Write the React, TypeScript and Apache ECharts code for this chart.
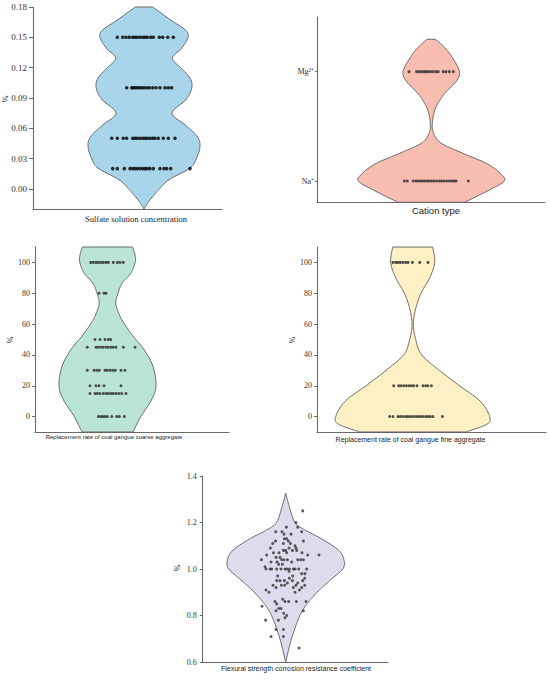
import { useEffect, useRef } from "react";
import * as echarts from "echarts";

// ---------------- Panel 1: Sulfate solution concentration ----------------
const sulfateLevels = [0.15, 0.1, 0.05, 0.02];
const sulfateOffsets = [
  [-26.7, -21.3, -18, -14.7, -11.3, -9, -6.7, -4, -1.3, 1, 3.3, 6.7, 9.3, 15.3, 18.7, 23.7, 29.3],
  [-17.3, -12.3, -10.7, -9, -6.7, -4.7, -2.3, 0, 2.7, 5.3, 8.7, 12, 16, 21, 24.3, 27.7],
  [-32.3, -26.7, -20.7, -17.3, -11.3, -9, -6.7, -4, -1.3, 1, 3.3, 6, 8.7, 11, 14.3, 19.3, 24.3, 31],
  [-31.3, -26.7, -19.7, -14, -11.3, -9, -6.7, -4, -1.3, 1, 3.3, 6, 9.3, 16, 20, 22.7, 26.7, 46],
];
// [value, density half-width]
const sulfateDensity = [
  [-0.02, 0], [-0.011, 6], [0.0, 15.5], [0.009, 25], [0.0205, 46], [0.0304, 52.5],
  [0.0419, 56], [0.0518, 53.3], [0.0634, 41], [0.075, 28], [0.088, 41.7], [0.0998, 47.8],
  [0.1097, 46], [0.1195, 37], [0.1295, 28.3], [0.139, 37.5], [0.15, 44], [0.157, 41.7],
  [0.167, 27], [0.18, 8.7],
];
const sulfateTicks = [0, 0.03, 0.06, 0.09, 0.12, 0.15, 0.18];

// ---------------- Panel 2: Cation type ----------------
const cationTypes = ["Na\u207A", "Mg\u00B2\u207A"];
const cationOffsets = [
  [-27, -24, -18, -15.3, -13, -10.7, -8.7, -6.3, -4, -2, 0.3, 2.7, 5.3, 8, 10.3, 12.7, 15.3, 18, 20.3, 22.7, 24.7, 37],
  [-22.3, -14.7, -12, -9.7, -7.3, -5.3, -3, -0.7, 2, 4.7, 7, 12, 14.7, 18, 22],
];
const cationDensity = [
  [-0.195, 33.3], [-0.082, 58], [0, 73], [0.07, 69], [0.162, 55], [0.253, 31.7],
  [0.345, 10], [0.436, 2.3], [0.527, 1], [0.649, 3.5], [0.741, 8.7], [0.817, 15],
  [0.909, 24.7], [1.0, 28.3], [1.137, 20.5], [1.229, 12.5], [1.296, 4.2],
];

// ---------------- Panel 3: coarse aggregate ----------------
const coarseLevels = [100, 80, 50, 45, 30, 20, 15, 0];
const coarseOffsets = [
  [-16.8, -14.2, -11.5, -9.2, -6.8, -4.2, -1.5, 0.8, 5.8, 9.8, 12.5, 15.8],
  [-8.5, -3.5, -1.5],
  [-12.5, -7.5, -2.5, 0.8, 3.2],
  [-20.2, -11.5, -9.2, -6.5, -4.2, -1.5, 0.8, 3.5, 5.8, 8.5, 15.8, 27.5],
  [-20.2, -13.5, -10.8, -8.2, -2.5, -0.2, 2.5, 5.2, 7.8, 13.5, 17.5],
  [-17.5, -11.5, -8.5, -3.5, 13.5],
  [-17.5, -12.5, -10.2, -7.5, -4.2, -1.5, 0.8, 3.5, 5.8, 8.5, 11.2, 14.2, 18.5],
  [-9.2, -6.8, -4.8, -2.5, -0.2, 4.2, 9.2, 11.8, 16.8],
];
const coarseDensity = [
  [-10, 25.5], [0, 33.3], [10.8, 44], [20.1, 48.5], [32.5, 45.5], [43.3, 36.7],
  [52, 25.8], [60.6, 16.3], [67, 11.3], [73.6, 8.3], [80, 10.5], [86.6, 14.7],
  [93, 23.3], [100, 27.7], [105, 27.5], [110, 25],
];
const percentTicks = [0, 20, 40, 60, 80, 100];

// ---------------- Panel 4: fine aggregate ----------------
const fineLevels = [100, 20, 0];
const fineOffsets = [
  [-19.7, -17, -14.7, -12.3, -9.7, -7, -4.7, -0.3, 7, 15.3],
  [-19, -14, -11.7, -9, -6.3, -3.7, -1.3, 1, 4.3, 10.3, 13, 15.3, 18.7],
  [-23, -19.7, -14.7, -12.3, -9.7, -7, -4.7, -2.3, 0.3, 3, 5.3, 7.7, 10.3, 13, 15.3, 17.7, 20.3, 29.7],
];
const fineDensity = [
  [-10, 53], [-5, 74], [0, 77], [10, 67.5], [20, 46.7], [30, 26.7], [40, 9],
  [50, 3], [60, 0.7], [70, 3], [80, 8.3], [90, 17], [100, 22], [110, 20],
];

// ---------------- Panel 5: flexural strength coefficient ----------------
// [offset, value]
const flexuralPoints = [
  [17, 1.25], [10.3, 1.2], [0.7, 1.18], [12, 1.18], [16, 1.16], [-10, 1.16], [-3.7, 1.16],
  [5.3, 1.15], [-1.7, 1.15], [-1.3, 1.13], [1, 1.13], [-2.3, 1.11], [2.7, 1.12], [4.7, 1.11],
  [-13, 1.11], [-10.3, 1.12], [9.3, 1.1], [17.7, 1.12], [-15.3, 1.09], [0, 1.08], [-2.3, 1.08],
  [3.3, 1.09], [10.3, 1.09], [11, 1.08], [6.7, 1.08], [1, 1.07], [-6.7, 1.07], [16.3, 1.07],
  [22, 1.06], [33.3, 1.06], [-19, 1.06], [-12.3, 1.07], [-9.7, 1.05], [-5.7, 1.05], [-4, 1.04],
  [-1.7, 1.04], [-8.7, 1.03], [1.7, 1.04], [12, 1.04], [15, 1.04], [17.7, 1.04], [-24.3, 1.04],
  [-14.7, 1.03], [-7, 1.02], [-3.3, 1.02], [6, 1.03], [-20.7, 1.01], [-19.7, 1.0], [-15.7, 1.0],
  [-14, 1.0], [-9, 1.0], [-4.7, 1.0], [-0.7, 1.0], [1, 1.0], [3.7, 1.0], [7.7, 1.0], [9.3, 1.0],
  [13, 1.0], [21, 1.0], [3.3, 0.99], [16, 0.98], [19.3, 0.98], [-8, 0.97], [7, 0.97], [3.7, 0.96],
  [19, 0.96], [17, 0.95], [-9, 0.95], [-5.7, 0.95], [-1.3, 0.95], [6.7, 0.95], [12, 0.94],
  [-12.7, 0.93], [1.7, 0.94], [10.3, 0.93], [-19.7, 0.91], [-9.7, 0.92], [-4.3, 0.93], [-1, 0.93],
  [7.7, 0.92], [16, 0.92], [19, 0.93], [-16.7, 0.9], [9.3, 0.9], [13.7, 0.91], [-10.7, 0.86],
  [-9, 0.85], [-3, 0.87], [-0.7, 0.86], [3, 0.86], [10.7, 0.86], [20.3, 0.86], [-7, 0.83],
  [-4.7, 0.83], [-9.7, 0.82], [17.7, 0.82], [-23.7, 0.84], [-2, 0.81], [1, 0.8], [-7.3, 0.78],
  [-0.7, 0.79], [-20, 0.78], [-9.7, 0.74], [-2.3, 0.74], [-2.3, 0.71], [-14.7, 0.71], [13.3, 0.66],
];
const flexuralDensity = [
  [0.6, 0], [0.7, 5.8], [0.8, 14.2], [0.852, 21.7], [0.901, 31.7], [0.953, 44.7], [1.0, 57],
  [1.039, 58.3], [1.082, 52.5], [1.132, 35], [1.168, 19], [1.2, 9.2], [1.273, 3.3], [1.327, 0],
];

const SERIF = "'Liberation Serif', 'Times New Roman', serif";
const SANS = "'Liberation Sans', Arial, sans-serif";

function rowsToPoints(levels: number[], offsets: number[][]) {
  const out: number[][] = [];
  levels.forEach((lv, i) => offsets[i].forEach((o) => out.push([o, lv])));
  return out;
}

function smoothProfile(profile: number[][], steps = 12) {
  const out: number[][] = [];
  const n = profile.length;
  const f = (a: number, b: number, c: number, d: number, t: number) => {
    const t2 = t * t, t3 = t2 * t;
    return 0.5 * (2 * b + (-a + c) * t + (2 * a - 5 * b + 4 * c - d) * t2 + (-a + 3 * b - 3 * c + d) * t3);
  };
  for (let i = 0; i < n - 1; i++) {
    const p0 = profile[Math.max(i - 1, 0)];
    const p1 = profile[i];
    const p2 = profile[i + 1];
    const p3 = profile[Math.min(i + 2, n - 1)];
    for (let s = 0; s < steps; s++) {
      const t = s / steps;
      out.push([f(p0[0], p1[0], p2[0], p3[0], t), Math.max(0, f(p0[1], p1[1], p2[1], p3[1], t))]);
    }
  }
  out.push(profile[n - 1]);
  return out;
}

function violinSeries(idx: number, profile: number[][], fill: string) {
  const pts = smoothProfile(profile);
  return {
    type: "custom",
    xAxisIndex: idx,
    yAxisIndex: idx,
    z: 2,
    silent: true,
    data: profile.map(([v, w]) => [w, v]),
    renderItem: (params: any, api: any) => {
      if (params.dataIndex !== 0) return null;
      const right = pts.map(([v, w]) => api.coord([w, v]));
      const left = pts.slice().reverse().map(([v, w]) => api.coord([-w, v]));
      return {
        type: "polygon",
        shape: { points: right.concat(left) },
        style: { fill, stroke: "#5a5a5a", lineWidth: 0.9 },
      };
    },
  };
}

function scatterSeries(idx: number, data: number[][], size: number, color: string) {
  return {
    type: "scatter",
    xAxisIndex: idx,
    yAxisIndex: idx,
    z: 3,
    symbol: "circle",
    symbolSize: size,
    itemStyle: { color },
    data,
  };
}

const axisLineStyle = { color: "#6a6a6a", width: 1.1 };

function xAxisFor(idx: number, min: number, max: number) {
  return {
    type: "value",
    gridIndex: idx,
    min,
    max,
    axisLine: { show: true, onZero: false, lineStyle: axisLineStyle },
    axisTick: { show: false },
    axisLabel: { show: false },
    splitLine: { show: false },
  };
}

function yAxisFor(idx: number, min: number, max: number, extra: any, fontSize: number, margin: number) {
  return {
    type: "value",
    gridIndex: idx,
    min,
    max,
    axisLine: { show: true, onZero: false, lineStyle: axisLineStyle },
    axisTick: { show: true, length: 3, lineStyle: { color: "#6a6a6a", width: 1 }, ...(extra.tick || {}) },
    axisLabel: {
      fontFamily: SERIF,
      fontSize,
      color: "#333",
      margin,
      ...(extra.label || {}),
    },
    splitLine: { show: false },
    ...(extra.axis || {}),
  };
}

function textEl(text: string, x: number, y: number, font: string, rotation = 0) {
  return {
    type: "text",
    x,
    y,
    rotation,
    silent: true,
    style: {
      text,
      font,
      fill: "#222",
      textAlign: "center",
      textVerticalAlign: "middle",
      align: "center",
      verticalAlign: "middle",
    },
  };
}

export default function App() {
  const ref = useRef<HTMLDivElement>(null);

  useEffect(() => {
    if (!ref.current) return;
    const chart = echarts.init(ref.current, null, { renderer: "svg" });

    const grids = [
      { left: 33, top: 7, width: 189, height: 202 },
      { left: 317, top: 17, width: 228, height: 185 },
      { left: 35, top: 247, width: 194, height: 185 },
      { left: 317, top: 247, width: 229, height: 185 },
      { left: 202.7, top: 476, width: 185.3, height: 186 },
    ].map((g) => ({ ...g, containLabel: false, outerBoundsMode: "none" }));

    const option: any = {
      animation: false,
      backgroundColor: "#ffffff",
      grid: grids,
      xAxis: [
        xAxisFor(0, -111, 78),
        xAxisFor(1, -114.3, 113.7),
        xAxisFor(2, -72.5, 121.5),
        xAxisFor(3, -95.7, 133.3),
        xAxisFor(4, -83, 102.3),
      ],
      yAxis: [
        yAxisFor(0, -0.02, 0.18, {
          tick: { customValues: sulfateTicks, length: 4 },
          label: { customValues: sulfateTicks, formatter: (v: number) => v.toFixed(2) },
        }, 9, 6),
        yAxisFor(1, -0.192, 1.5, {
          tick: { customValues: [0, 1], length: 2 },
          label: { customValues: [0, 1], formatter: (v: number) => cationTypes[Math.round(v)] },
        }, 8, 3),
        yAxisFor(2, -10, 110, {
          tick: { customValues: percentTicks },
          label: { customValues: percentTicks },
        }, 8, 5),
        yAxisFor(3, -10, 110, {
          tick: { customValues: percentTicks },
          label: { customValues: percentTicks },
        }, 8, 5),
        yAxisFor(4, 0.6, 1.4, {
          axis: { interval: 0.2 },
          label: { formatter: (v: number) => v.toFixed(1) },
        }, 8, 6),
      ],
      series: [
        violinSeries(0, sulfateDensity, "#a8d5ea"),
        scatterSeries(0, rowsToPoints(sulfateLevels, sulfateOffsets), 3.6, "#000000"),
        violinSeries(1, cationDensity, "#f7bdb1"),
        scatterSeries(1, rowsToPoints([0, 1], cationOffsets), 3, "#2a2a2a"),
        violinSeries(2, coarseDensity, "#bae4d4"),
        scatterSeries(2, rowsToPoints(coarseLevels, coarseOffsets), 3, "#2a2a2a"),
        violinSeries(3, fineDensity, "#fdf0c5"),
        scatterSeries(3, rowsToPoints(fineLevels, fineOffsets), 3, "#2a2a2a"),
        violinSeries(4, flexuralDensity, "#dedcec"),
        scatterSeries(4, flexuralPoints, 3, "#333333"),
      ],
      graphic: [
        textEl("Sulfate solution concentration", 136, 219, `8.5px ${SERIF}`),
        textEl("Cation type", 436, 210, `9.5px ${SANS}`),
        textEl("Replacement rate of coal gangue coarse aggregate", 114, 437, `6px ${SANS}`),
        textEl("Replacement rate of coal gangue fine aggregate", 410.5, 439, `7px ${SANS}`),
        textEl("Flexural strength corrosion resistance coefficient", 296, 668, `7px ${SANS}`),
        textEl("%", 5, 99, `8px ${SERIF}`, Math.PI / 2),
        textEl("%", 10, 340, `8px ${SERIF}`, Math.PI / 2),
        textEl("%", 292, 340, `8px ${SERIF}`, Math.PI / 2),
        textEl("%", 177, 568, `8px ${SERIF}`, Math.PI / 2),
      ],
    };

    chart.setOption(option);
    return () => chart.dispose();
  }, []);

  return (
    <div
      ref={ref}
      style={{ position: "fixed", left: 0, top: 0, width: 550, height: 681, background: "#fff" }}
    />
  );
}
